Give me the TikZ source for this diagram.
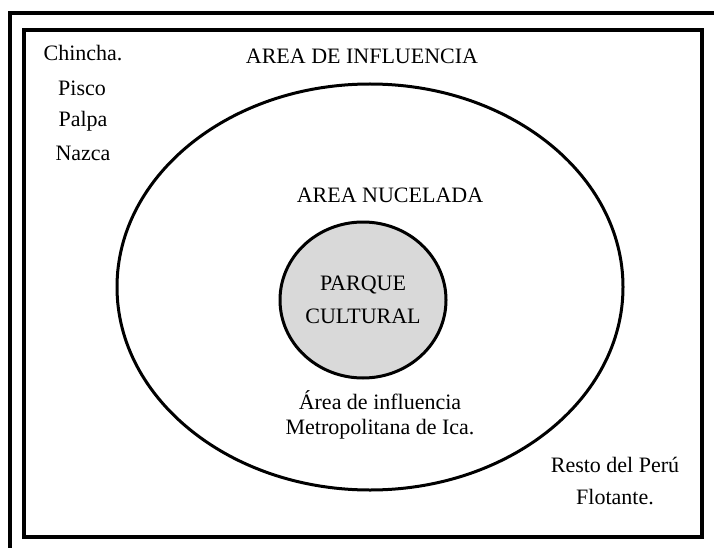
\documentclass[tikz,border=0pt]{standalone}
\usepackage{fontspec}
\setmainfont{Liberation Serif}
\usetikzlibrary{shapes.geometric}

\begin{document}
\begin{tikzpicture}[x=1pt, y=-1pt, line width=3pt,
		lbl/.style={font=\fontsize{22}{33}\selectfont, align=center, inner sep=0pt}]
		\useasboundingbox (0,0) rectangle (714,548);

		% Frames
		\begin{scope}
			\clip (0,0) rectangle (714,548);
			\draw[line width=4pt] (10,13) rectangle (730,560);
		\end{scope}
		\draw[line width=4pt] (24,30) rectangle (702,537);

		% Ellipses
		\node[ellipse, draw, minimum width=506, minimum height=406] (influencia) at (370,287) {};
		\node[ellipse, draw, fill=gray!30, minimum width=166, minimum height=156, lbl] (parque) at (363,300) {PARQUE\\CULTURAL};

		% Towns
		\node[lbl] (chincha) at (83,53) {Chincha.};
		\node[lbl] (pisco) at (82,88) {Pisco};
		\node[lbl] (palpa) at (83,121) {Palpa};
		\node[lbl] (nazca) at (83,153) {Nazca};

		% Area labels
		\node[lbl] (titinflu) at (362,56) {AREA DE INFLUENCIA};
		\node[lbl] (titnuc) at (390,195) {AREA NUCELADA};
		\node[lbl, font=\fontsize{22}{25}\selectfont] (metro) at (380,415) {Área de influencia\\Metropolitana de Ica.};
		\node[lbl, font=\fontsize{22}{32}\selectfont] (resto) at (615,481) {Resto del Perú\\Flotante.};
	\end{tikzpicture}
\end{document}
